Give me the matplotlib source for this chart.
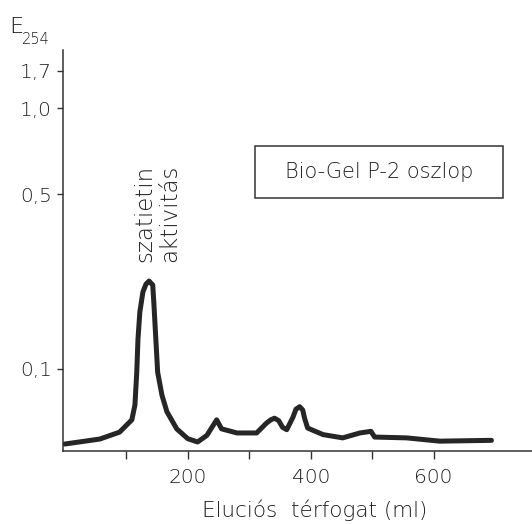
import numpy as np
import matplotlib
matplotlib.use("Agg")
import matplotlib.pyplot as plt
from matplotlib.patches import Rectangle

# ---- data ----
volume_ml = [0, 57, 89, 109, 114, 117, 119, 122, 127, 132, 137, 143, 145, 148,
             151, 158, 166, 182, 200, 216, 231, 247, 255, 280, 312, 328, 335,
             341, 348, 354, 361, 371, 376, 382, 387, 390, 395, 420, 452, 480,
             498, 504, 556, 610, 694]
absorbance = [0.0085, 0.0146, 0.023, 0.038, 0.056, 0.096, 0.169, 0.230, 0.276,
              0.294, 0.301, 0.292, 0.246, 0.169, 0.096, 0.068, 0.048, 0.027,
              0.015, 0.011, 0.019, 0.038, 0.027, 0.022, 0.022, 0.034, 0.038,
              0.040, 0.037, 0.029, 0.026, 0.041, 0.051, 0.054, 0.050, 0.040,
              0.028, 0.020, 0.016, 0.022, 0.024, 0.017, 0.016, 0.012, 0.013]

y_ticks = [0.1, 0.5, 1.0, 1.7]
y_tick_labels = ["0,1", "0,5", "1,0", "1,7"]
x_major = [200, 400, 600]
x_minor = [100, 300, 500]

# non-linear (hand drawn) absorbance axis: E -> relative height
E_knots = [0.0, 0.1, 0.5, 1.0, 1.7, 2.3]
H_knots = [0.0, 82.0, 257.0, 343.0, 380.0, 401.0]

def fwd(e):
    return np.interp(e, E_knots, H_knots)

def inv(h):
    return np.interp(h, H_knots, E_knots)

plt.rcParams['font.family'] = ["DejaVu Sans"]
plt.rcParams['font.weight'] = 'light'
plt.rcParams['axes.labelweight'] = 'light'
TXT = '#1e1e1e'

W, H = 532, 524
fig = plt.figure(figsize=(W / 100, H / 100), dpi=100)
ax = fig.add_axes([63 / W, (H - 451) / H, (W - 63) / W, 401 / H])

ax.set_yscale('function', functions=(fwd, inv))
ax.plot(volume_ml, absorbance, color='#262626', lw=3.6, solid_capstyle='round',
        solid_joinstyle='round')

ax.set_xlim(-3, 760)
ax.set_ylim(0, 2.3)

ax.spines['top'].set_visible(False)
ax.spines['right'].set_visible(False)
for s in ('left', 'bottom'):
    ax.spines[s].set_linewidth(1.1)
    ax.spines[s].set_color('#333333')

ax.set_xticks(x_major)
ax.set_xticklabels([str(v) for v in x_major])
ax.set_xticks(x_minor, minor=True)
ax.tick_params(axis='x', which='both', direction='out', length=6, width=1.0,
               colors='#333333', labelsize=14.5, pad=6)
ax.set_yticks(y_ticks)
ax.set_yticklabels(y_tick_labels)
ax.yaxis.set_minor_locator(matplotlib.ticker.NullLocator())
ax.tick_params(axis='y', which='both', direction='out', length=4, width=1.0,
               colors='#333333', labelsize=14.5, pad=4)
for lab in ax.get_xticklabels() + ax.get_yticklabels():
    lab.set_color(TXT)
    lab.set_fontweight('light')

ax.set_xlabel("Eluciós  térfogat (ml)", fontsize=15.5, color=TXT,
              fontweight='light')
ax.xaxis.set_label_coords((315 - 63) / 469, (451 - 510) / 401)
ax.xaxis.label.set_va('center')

# y-axis title E_254
fig.text(9 / W, 1 - 33 / H, "E", fontsize=16, color=TXT,
         ha='left', va='baseline', fontweight='light')
fig.text(22 / W, 1 - 44 / H, "254", fontsize=10.5, color=TXT,
         ha='left', va='baseline', fontweight='light')

# annotation of peak
fig.text(157 / W, 1 - 262 / H, "szatietin\naktivitás", rotation=90,
         fontsize=16.5, color=TXT, ha='center', va='bottom',
         multialignment='left', linespacing=1.1, fontweight='light')

# boxed label
fig.patches.append(Rectangle((255 / W, 1 - 198 / H), 248 / W, 52 / H,
                             transform=fig.transFigure, fill=False,
                             edgecolor='#333333', lw=1.1))
fig.text(379 / W, 1 - 172 / H, "Bio-Gel P-2 oszlop", fontsize=15,
         color=TXT, ha='center', va='center', fontweight='light')

fig.savefig("out.png", dpi=100, facecolor='white')
